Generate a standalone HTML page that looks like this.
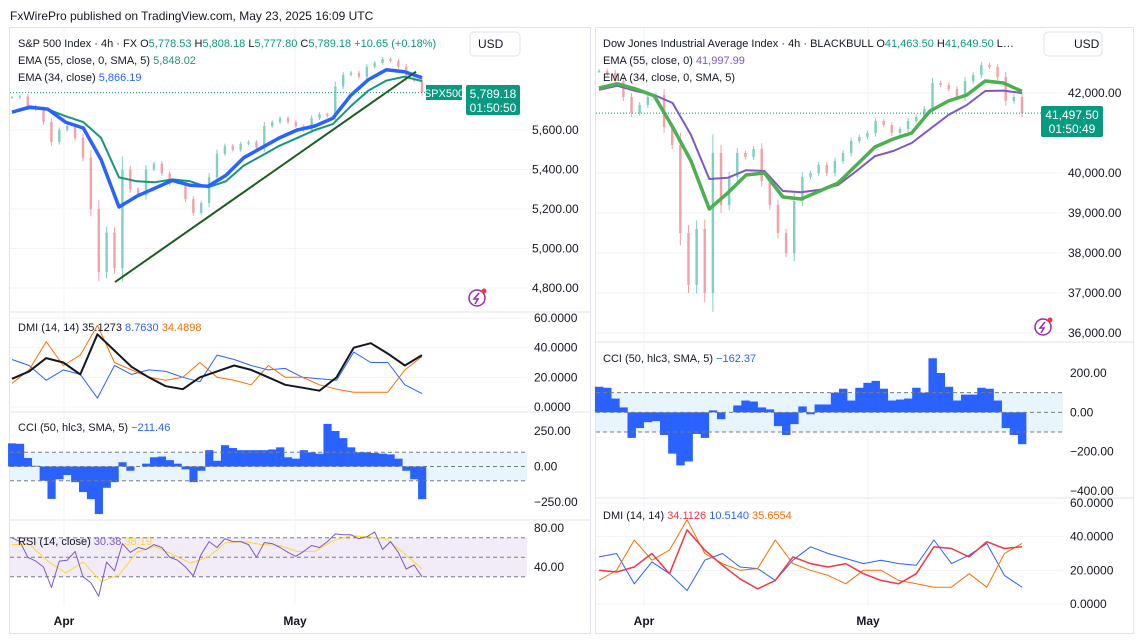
<!DOCTYPE html>
<html><head><meta charset="utf-8">
<style>
body{margin:0;background:#fff;width:1138px;height:640px;overflow:hidden;font-family:"Liberation Sans",sans-serif;}
svg{position:absolute;left:0;top:0}
text{font-family:"Liberation Sans",sans-serif;}
</style></head>
<body>
<svg id="c" width="1138" height="640" viewBox="0 0 1138 640">
<text x="10" y="20" font-size="12" fill="#131722">FxWirePro published on TradingView.com, May 23, 2025 16:09 UTC</text>
<rect x="9.5" y="27.5" width="581" height="606" fill="none" stroke="#e0e3eb"/>
<rect x="595.5" y="27.5" width="538" height="606" fill="none" stroke="#e0e3eb"/>
<g id="grid"></g>
<g id="fills"></g>
<g id="marks"></g>
<g id="labels" font-size="12" fill="#131722"></g>
</svg>
<script>
// ---------- S&P 500 data ----------
const spxClose=[5765,5770,5720,5705,5640,5540,5600,5620,5560,5460,5200,4880,5080,4900,5400,5300,5270,5400,5430,5380,5330,5330,5250,5180,5230,5360,5480,5520,5500,5530,5540,5510,5620,5640,5660,5640,5620,5600,5660,5680,5670,5820,5880,5890,5870,5920,5940,5960,5950,5920,5860,5850,5789];
const spxEma34=[5690,5716,5706,5640,5610,5450,5210,5265,5305,5345,5320,5315,5370,5460,5510,5560,5600,5620,5660,5775,5855,5905,5895,5865];
const spxEma55=[5690,5710,5705,5670,5640,5560,5360,5340,5335,5350,5340,5310,5340,5420,5470,5520,5560,5600,5630,5720,5800,5850,5870,5848];
const spxAdx=[19,24,33,30,22,49,38,27,20,14,12,20,24,28,25,20,15,13,11,20,40,43,36,28,35];
const spxPdi=[32,28,18,25,22,6,28,22,25,24,20,17,35,32,28,25,26,20,19,18,37,30,30,15,9];
const spxMdi=[16,25,44,28,35,55,30,25,20,18,20,30,20,18,15,28,20,20,15,12,10,10,10,25,34];
const spxCci=[163,160,60,5,-100,-228,-90,-60,-110,-180,-230,-335,-150,-110,30,-30,0,20,65,70,45,20,-20,-110,-30,115,40,150,130,115,115,115,115,120,135,65,55,115,100,90,300,250,200,135,100,100,95,90,85,55,-30,-90,-230];
const spxRsi=[70,66,50,46,40,19,46,47,56,30,24,10,45,36,64,55,60,58,63,60,50,47,40,31,53,66,60,69,66,66,63,50,65,64,60,55,51,56,62,60,66,74,73,73,69,71,76,58,66,55,38,42,30];
const spxRsiMa=[63,63,46,34,45,25,32,55,61,53,44,50,65,66,63,62,56,56,67,72,71,69,54,38];
const spxTicks=[5600,5400,5200,5000,4800];
// ---------- Dow data ----------
const djiClose=[42550,42500,42300,41900,41500,41700,41900,41950,41150,40700,38500,37200,38600,37000,40500,39200,39900,40500,40400,40600,39800,39200,38500,38000,39300,39900,40000,40200,40000,40300,40500,40800,40900,41000,41300,41200,41000,41100,41300,41400,41600,42250,42200,42100,41900,42300,42450,42700,42650,42400,41800,41900,41497.5];
const djiEmaGreen=[42125,42230,42100,41930,41150,40300,39100,39500,39950,40000,39400,39350,39550,39750,40200,40650,40850,41000,41550,41800,41950,42300,42250,42040];
const djiEmaPurple=[42080,42180,42050,41950,41750,40950,39850,39880,40070,40050,39550,39520,39580,39700,40050,40420,40550,40750,41100,41450,41700,42050,42060,41998];
const djiCci=[130,125,70,25,-130,-80,-50,-45,-115,-210,-270,-250,-110,-130,10,-35,0,35,60,55,25,15,-70,-115,-60,30,-10,40,40,100,120,60,125,150,160,120,60,65,70,125,100,275,200,130,60,90,90,125,120,60,-80,-115,-162];
const djiAdx=[20,19,22,30,18,44,32,23,15,9,14,28,24,22,24,18,14,12,18,34,33,28,37,33,34];
const djiPdi=[28,30,12,25,18,8,26,30,22,21,14,26,34,30,27,24,26,24,23,38,24,29,36,17,10];
const djiMdi=[14,20,38,26,32,50,30,24,20,21,38,24,20,17,12,20,20,14,12,10,10,18,10,30,36];
const djiTicks=[42000,40000,39000,38000,37000,36000];
const months=["Apr","May"];

const NS="http://www.w3.org/2000/svg";
const G=id=>document.getElementById(id);
function mk(tag,attrs,parent){const e=document.createElementNS(NS,tag);for(const k in attrs)e.setAttribute(k,attrs[k]);parent.appendChild(e);return e;}
const lin=(d0,d1,r0,r1)=>v=>r0+(v-d0)*(r1-r0)/(d1-d0);
const xIdx=(n,x0,x1)=>i=>x0+(x1-x0)*i/(n-1);

const L={x0:12,x1:422,right:527};
const R={x0:599,x1:1022,right:1063};
const spxY=lin(5600,4800,130,288);
const lDmiY=lin(60,0,318,407);
const lCciY=lin(250,-250,431,502);
const lRsiY=lin(80,40,528,567);
const djiY=lin(42000,36000,93,333);
const rCciY=lin(200,-400,373,491);
const rDmiY=lin(60,0,503,604);

const grid=G('grid'),fills=G('fills'),marks=G('marks'),labels=G('labels');
function hline(y,x0,x1,parent,stroke,dash,name){const l=mk('line',{x1:x0,x2:x1,y1:y,y2:y,stroke:stroke,'stroke-width':1},parent);if(dash)l.setAttribute('stroke-dasharray',dash);

return l;}
function label(x,y,t,parent,fill,name,anchor){const e=mk('text',{x:x,y:y},parent);e.textContent=t;if(fill)e.setAttribute('fill',fill);if(anchor)e.setAttribute('text-anchor',anchor);

return e;}
function poly(vals,x0,x1,ys,color,w,name){const xf=xIdx(vals.length,x0,x1);const p=vals.map((v,i)=>xf(i).toFixed(1)+','+ys(v).toFixed(1)).join(' ');
const e=mk('polyline',{points:p,fill:'none',stroke:color,'stroke-width':w,'stroke-linejoin':'round'},marks);

return e;}
function candles(vals,x0,x1,ys,name){const xf=xIdx(vals.length,x0,x1);const bw=(x1-x0)/(vals.length-1)*0.3;
vals.forEach((c,i)=>{const o=i?vals[i-1]:c;const up=c>=o;const col=up?'#7fd0c2':'#f5a0a7';const x=xf(i);
const span=Math.abs(c-o)*0.12+Math.abs(c)*0.0012;
const hi=Math.max(o,c)+span,lo=Math.min(o,c)-span;
const w=mk('line',{x1:x,x2:x,y1:ys(hi),y2:ys(lo),stroke:col,'stroke-width':1},marks);


const yt=Math.min(ys(o),ys(c)),h=Math.max(1,Math.abs(ys(o)-ys(c)));
const b=mk('rect',{x:x-bw/2,y:yt,width:bw,height:h,fill:col},marks);

});}
function bars(vals,x0,x1,ys,color,name){const xf=xIdx(vals.length,x0,x1);const bw=(x1-x0)/(vals.length-1);const z=ys(0);
vals.forEach((v,i)=>{const y=ys(v);const r=mk('rect',{x:xf(i)-bw/2,y:Math.min(y,z),width:bw+0.3,height:Math.abs(y-z),fill:color},marks);

});}

[[312,10,590],[412,10,590],[520,10,590],[342,596,1133],[498,596,1133]].forEach(s=>hline(s[0],s[1],s[2],grid,'#e0e3eb',null,'pane-separator'));
[[64,295],[644,868]].forEach((xs,k)=>xs.forEach(x=>{const l=mk('line',{x1:x,x2:x,y1:28,y2:605,stroke:'#f0f3fa'},grid);

}));
spxTicks.forEach(t=>{hline(spxY(t),10,L.right,grid,'#f0f3fa',null,'price-gridline');label(532,spxY(t)+4,t.toLocaleString('en-US',{minimumFractionDigits:2}),labels,null,'price-tick-label');});
djiTicks.forEach(t=>{hline(djiY(t),596,R.right,grid,'#f0f3fa',null,'price-gridline');label(1068,djiY(t)+4,t.toLocaleString('en-US',{minimumFractionDigits:2}),labels,null,'price-tick-label');});
[60,40,20,0].forEach(t=>{hline(lDmiY(t),10,L.right,grid,'#f0f3fa',null,'dmi-gridline');label(534,lDmiY(t)+4,t.toFixed(4),labels,null,'dmi-tick-label');});
[60,40,20,0].forEach(t=>{hline(rDmiY(t),596,R.right,grid,'#f0f3fa',null,'dmi-gridline');label(1070,rDmiY(t)+4,t.toFixed(4),labels,null,'dmi-tick-label');});
let b=mk('rect',{x:10,y:lCciY(100),width:L.right-10,height:lCciY(-100)-lCciY(100),fill:'#e3f2fd',opacity:0.8},fills);


b=mk('rect',{x:596,y:rCciY(100),width:R.right-596,height:rCciY(-100)-rCciY(100),fill:'#e3f2fd',opacity:0.8},fills);


[250,0,-250].forEach(t=>label(534,lCciY(t)+4,(t<0?'−':'')+Math.abs(t).toFixed(2),labels,null,'cci-tick-label'));
[200,0,-200,-400].forEach(t=>label(1070,rCciY(t)+4,(t<0?'−':'')+Math.abs(t).toFixed(2),labels,null,'cci-tick-label'));
b=mk('rect',{x:10,y:lRsiY(70),width:L.right-10,height:lRsiY(30)-lRsiY(70),fill:'#ede7f6',opacity:0.8},fills);


[80,40].forEach(t=>label(534,lRsiY(t)+4,t.toFixed(2),labels,null,'rsi-tick-label'));

candles(spxClose,L.x0,L.x1,spxY,'spx-candle');
poly(spxEma55,L.x0,L.x1,spxY,'#17977a',2,'spx-ema55-line');
poly(spxEma34,L.x0,L.x1,spxY,'#2962ff',3.5,'spx-ema34-line');
let tl=mk('line',{x1:115,y1:spxY(4830),x2:416,y2:spxY(5895),stroke:'#1b5e20','stroke-width':2},marks);


hline(spxY(5789.18),10,466,marks,'#089981','1 2','last-price-line');
poly(spxPdi,L.x0,L.x1,lDmiY,'#2962ff',1,'spx-dmi-plus');
poly(spxMdi,L.x0,L.x1,lDmiY,'#ff6d00',1,'spx-dmi-minus');
poly(spxAdx,L.x0,L.x1,lDmiY,'#131722',2,'spx-adx');
bars(spxCci,L.x0,L.x1,lCciY,'#2962ff','spx-cci-bar');
[100,0,-100].forEach(t=>hline(lCciY(t),10,L.right,marks,'#787b86','4 3','cci-level'));
[70,50,30].forEach(t=>hline(lRsiY(t),10,L.right,marks,'#787b86','4 3','rsi-level'));
poly(spxRsiMa,L.x0,L.x1,lRsiY,'#fdd835',1,'spx-rsi-ma');
poly(spxRsi,L.x0,L.x1,lRsiY,'#7e57c2',1,'spx-rsi');
candles(djiClose,R.x0,R.x1,djiY,'dji-candle');
poly(djiEmaPurple,R.x0,R.x1,djiY,'#7e57c2',2,'dji-ema55-line');
poly(djiEmaGreen,R.x0,R.x1,djiY,'#4caf50',3.5,'dji-ema34-line');
hline(djiY(41497.5),596,1043,marks,'#089981','1 2','last-price-line');
bars(djiCci,R.x0,R.x1,rCciY,'#2962ff','dji-cci-bar');
[100,0,-100].forEach(t=>hline(rCciY(t),596,R.right,marks,'#787b86','4 3','cci-level'));
poly(djiPdi,R.x0,R.x1,rDmiY,'#2962ff',1,'dji-dmi-plus');
poly(djiMdi,R.x0,R.x1,rDmiY,'#ff6d00',1,'dji-dmi-minus');
poly(djiAdx,R.x0,R.x1,rDmiY,'#f23645',1.5,'dji-adx');

[[64,295],[644,868]].forEach(xs=>xs.forEach((x,i)=>{const t=label(x,625,months[i],labels,null,'date-axis-label','middle');t.setAttribute('font-weight','bold');}));
</script>
<svg width="1138" height="640" style="pointer-events:none">
<g font-size="11">
<text x="18" y="47" fill="#131722">S&amp;P 500 Index · 4h · FX <tspan>O</tspan><tspan fill="#089981">5,778.53</tspan> H<tspan fill="#089981">5,808.18</tspan> L<tspan fill="#089981">5,777.80</tspan> C<tspan fill="#089981">5,789.18</tspan> <tspan fill="#089981">+10.65 (+0.18%)</tspan></text>
<text x="18" y="64" fill="#131722">EMA (55, close, 0, SMA, 5) <tspan fill="#17977a">5,848.02</tspan></text>
<text x="18" y="81" fill="#131722">EMA (34, close) <tspan fill="#2962ff">5,866.19</tspan></text>
<text x="18" y="331" fill="#131722">DMI (14, 14) 35.1273 <tspan fill="#2962ff">8.7630</tspan> <tspan fill="#ff6d00">34.4898</tspan></text>
<text x="18" y="431" fill="#131722">CCI (50, hlc3, SMA, 5) <tspan fill="#2962ff">−211.46</tspan></text>
<text x="18" y="545" fill="#131722">RSI (14, close) <tspan fill="#7e57c2">30.38</tspan> <tspan fill="#fdd835">38.19</tspan></text>
<text x="603" y="47" fill="#131722">Dow Jones Industrial Average Index · 4h · BLACKBULL O<tspan fill="#089981">41,463.50</tspan> H<tspan fill="#089981">41,649.50</tspan> L…</text>
<text x="603" y="64" fill="#131722">EMA (55, close, 0) <tspan fill="#7e57c2">41,997.99</tspan></text>
<text x="603" y="81" fill="#131722">EMA (34, close, 0, SMA, 5)</text>
<text x="603" y="362" fill="#131722">CCI (50, hlc3, SMA, 5) <tspan fill="#2962ff">−162.37</tspan></text>
<text x="603" y="519" fill="#131722">DMI (14, 14) <tspan fill="#f23645">34.1126</tspan> <tspan fill="#2962ff">10.5140</tspan> <tspan fill="#ff6d00">35.6554</tspan></text>
</g>
<g><rect x="470" y="32" width="50" height="24" rx="4" fill="#fff" stroke="#e0e3eb"/><text x="478" y="48" font-size="12" fill="#131722">USD</text></g>
<g><rect x="1044" y="32" width="58" height="24" rx="4" fill="#fff" stroke="#e0e3eb"/><text x="1074" y="48" font-size="12" fill="#131722">USD</text></g>
<g><rect x="426" y="85" width="36" height="15" fill="#089981"/><text x="444" y="97" font-size="11" fill="#fff" text-anchor="middle">SPX500</text></g>
<g><rect x="466" y="85" width="54" height="30" rx="2" fill="#089981"/><text x="493" y="98" font-size="12" fill="#fff" text-anchor="middle">5,789.18</text><text x="493" y="112" font-size="12" fill="#fff" text-anchor="middle">01:50:50</text></g>
<g><rect x="1041" y="106" width="62" height="31" rx="2" fill="#089981"/><text x="1072" y="119" font-size="12" fill="#fff" text-anchor="middle">41,497.50</text><text x="1072" y="133" font-size="12" fill="#fff" text-anchor="middle">01:50:49</text></g>
<g><circle cx="477" cy="298" r="8" fill="none" stroke="#9c27b0" stroke-width="1.5"/><path d="M479 293 L474 299 L478 299 L475 304" fill="none" stroke="#9c27b0" stroke-width="1.5"/><circle cx="484" cy="291" r="2.5" fill="#f23645"/></g>
<g><circle cx="1043" cy="327" r="8" fill="none" stroke="#9c27b0" stroke-width="1.5"/><path d="M1045 322 L1040 328 L1044 328 L1041 333" fill="none" stroke="#9c27b0" stroke-width="1.5"/><circle cx="1050" cy="320" r="2.5" fill="#f23645"/></g>
</svg>
</body></html>
